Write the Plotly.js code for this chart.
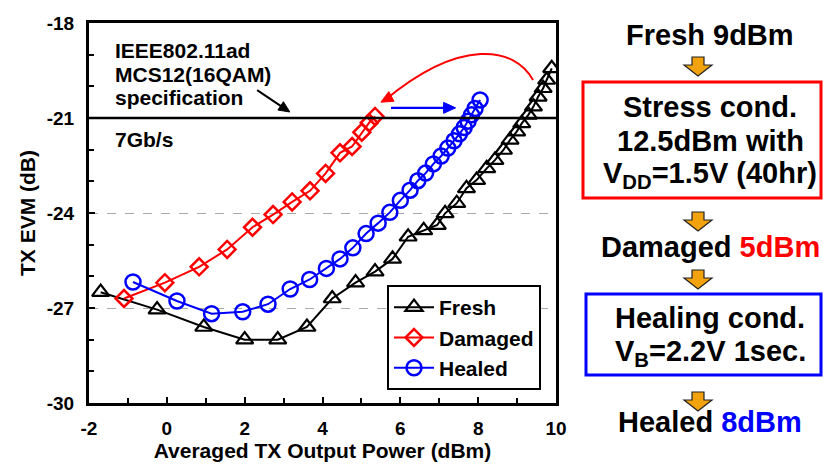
<!DOCTYPE html>
<html>
<head>
<meta charset="utf-8">
<script src="https://cdn.plot.ly/plotly-3.0.1.min.js"></script>
<style>
  html, body { margin: 0; padding: 0; background: #ffffff; }
  #chart { width: 823px; height: 464px; }
</style>
</head>
<body>
<div id="chart"></div>
<script>
// ---------- data ----------
const freshX = [-1.7, -0.25, 0.95, 2.0, 2.85, 3.6, 4.25, 4.85, 5.35, 5.8, 6.2, 6.6, 6.95,
                7.15, 7.45, 7.70, 7.96, 8.22, 8.43, 8.65, 8.82, 8.99, 9.12, 9.29, 9.42, 9.54, 9.67, 9.76, 9.89];
const freshY = [-26.5, -27.05, -27.6, -28.0, -28.0, -27.6, -26.7, -26.2, -25.85, -25.45, -24.75, -24.55, -24.38,
                -24.01, -23.69, -23.22, -22.96, -22.59, -22.33, -22.01, -21.69, -21.43, -21.17, -20.90, -20.64, -20.33, -20.06, -19.80, -19.43];

const damagedX = [-1.1, -0.05, 0.83, 1.55, 2.2, 2.73, 3.22, 3.68, 4.08, 4.45, 4.76, 5.01, 5.2, 5.35];
const damagedY = [-26.7, -26.2, -25.7, -25.15, -24.45, -24.05, -23.65, -23.3, -22.75, -22.1, -21.9, -21.45, -21.15, -20.95];

const healedX = [-0.87, 0.26, 1.15, 1.95, 2.6, 3.17, 3.67, 4.1, 4.45, 4.78, 5.12, 5.43, 5.73, 6.0,
                 6.25, 6.45, 6.65, 6.85, 7.05, 7.22, 7.38, 7.52, 7.64, 7.74, 7.83, 7.92, 8.05];
const healedY = [-26.18, -26.78, -27.18, -27.12, -26.88, -26.4, -26.1, -25.75, -25.45, -25.1, -24.65, -24.32, -23.98, -23.6,
                 -23.28, -22.98, -22.74, -22.45, -22.2, -21.95, -21.72, -21.5, -21.3, -21.1, -20.9, -20.7, -20.43];

const seriesNames = ['Fresh', 'Damaged', 'Healed'];
const xTickVals = [-2, 0, 2, 4, 6, 8, 10];
const xTickText = ['-2', '0', '2', '4', '6', '8', '10'];
const yTickVals = [-30, -27, -24, -21, -18];
const yTickText = ['-30', '-27', '-24', '-21', '-18'];
const specLevel = -21;

const specLines = ['IEEE802.11ad', 'MCS12(16QAM)', 'specification'];
const rateLabel = '7Gb/s';
const flowLines = [
  {text: 'Fresh 9dBm', y: 35},
  {text: 'Stress cond.', y: 107},
  {text: '12.5dBm with', y: 141},
  {text: 'V<sub>DD</sub>=1.5V (40hr)', y: 175},
  {text: 'Damaged <span style="color:#ff0000">5dBm</span>', y: 247},
  {text: 'Healing cond.', y: 318},
  {text: 'V<sub>B</sub>=2.2V 1sec.', y: 353},
  {text: 'Healed <span style="color:#0000ff">8dBm</span>', y: 422}
];
const flowArrowTops = [57, 212, 270, 392];

// ---------- layout helpers ----------
const M = {l: 89, r: 0, t: 23, b: 61};
const W = 823 - M.l - M.r, H = 464 - M.t - M.b;
const PLOT_R = 556;
const XR = [-2, 10], YR = [-30, -18];
const px = x => (x - M.l) / W;              // pixel -> paper x
const py = y => (464 - M.b - y) / H;        // pixel -> paper y
const d2pxX = v => M.l + (v - XR[0]) / (XR[1] - XR[0]) * (PLOT_R - M.l);
const d2pxY = v => (464 - M.b) - (v - YR[0]) / (YR[1] - YR[0]) * H;
const FONT = 'Liberation Sans, Arial, sans-serif';

function arrowHead(x0, y0, x1, y1, color, L, hw) {
  const ax = d2pxX(x0), ay = d2pxY(y0), bx = d2pxX(x1), by = d2pxY(y1);
  const len = Math.hypot(bx - ax, by - ay);
  const ux = (bx - ax) / len, uy = (by - ay) / len;
  const cx = bx - L * ux, cy = by - L * uy;
  const p = [[bx, by], [cx - hw * uy, cy + hw * ux], [cx + hw * uy, cy - hw * ux]];
  return {type: 'path', xref: 'paper', yref: 'paper',
          path: 'M ' + p.map(q => px(q[0]).toFixed(5) + ',' + py(q[1]).toFixed(5)).join(' L ') + ' Z',
          fillcolor: color, line: {color: color, width: 1}};
}

const traces = [
  {x: freshX, y: freshY, name: seriesNames[0], mode: 'lines+markers', legendgroup: 'a',
   line: {color: '#000000', width: 2},
   marker: {symbol: 'triangle-up-open', size: 15, color: '#000000', line: {width: 2.2}}},
  {x: damagedX, y: damagedY, name: seriesNames[1], mode: 'lines+markers', legendgroup: 'b',
   line: {color: '#ff0000', width: 2},
   marker: {symbol: 'diamond-open', size: 13, color: '#ff0000', line: {width: 2.5}}},
  {x: healedX, y: healedY, name: seriesNames[2], mode: 'lines+markers', legendgroup: 'c',
   line: {color: '#0000ff', width: 2},
   marker: {symbol: 'circle-open', size: 15, color: '#0000ff', line: {width: 2.5}}}
];

const shapes = [
  {type: 'line', xref: 'x', yref: 'y', x0: -2, x1: 10, y0: specLevel, y1: specLevel,
   line: {color: '#000000', width: 2.5}},
  {type: 'path', xref: 'x', yref: 'y',
   path: 'M 9.41,-19.8 C 8.95,-18.75 7.55,-18.45 5.6,-20.44',
   line: {color: '#ff0000', width: 2}},
  arrowHead(5.95, -20.2, 5.5, -20.5, '#ff0000', 12, 5.5),
  {type: 'line', xref: 'x', yref: 'y', x0: 5.76, x1: 7.2, y0: -20.68, y1: -20.68,
   line: {color: '#0000ff', width: 2.2}},
  arrowHead(5.76, -20.68, 7.42, -20.68, '#0000ff', 12, 5.5),
  {type: 'line', xref: 'x', yref: 'y', x0: 2.32, x1: 3.0, y0: -20.12, y1: -20.68,
   line: {color: '#000000', width: 2}},
  arrowHead(2.32, -20.12, 3.16, -20.81, '#000000', 11, 5),
  {type: 'rect', xref: 'paper', yref: 'paper', x0: px(583), x1: px(821), y0: py(82), y1: py(198),
   line: {color: '#ff0000', width: 3}},
  {type: 'rect', xref: 'paper', yref: 'paper', x0: px(586), x1: px(821), y0: py(294), y1: py(375),
   line: {color: '#0000ff', width: 3}}
];
flowArrowTops.forEach(t => {
  const cx = 698;
  const pts = [[cx - 6, t], [cx + 6, t], [cx + 6, t + 8], [cx + 14, t + 8], [cx, t + 19], [cx - 14, t + 8], [cx - 6, t + 8]];
  const path = 'M ' + pts.map(p => px(p[0]).toFixed(5) + ',' + py(p[1]).toFixed(5)).join(' L ') + ' Z';
  shapes.push({type: 'path', xref: 'paper', yref: 'paper', path: path,
               fillcolor: '#f2a20c', line: {color: '#222222', width: 1.2}});
});

const annotations = [];
const specY = [50, 74, 97];
specLines.forEach((t, i) => {
  annotations.push({xref: 'paper', yref: 'paper', x: px(113), y: py(specY[i]), xanchor: 'left', yanchor: 'middle',
    text: t, showarrow: false, font: {family: FONT, size: 21, weight: 'bold', color: '#000'}});
});
annotations.push({xref: 'paper', yref: 'paper', x: px(113), y: py(139), xanchor: 'left', yanchor: 'middle',
   text: rateLabel, showarrow: false, font: {family: FONT, size: 21, weight: 'bold', color: '#000'}});
flowLines.forEach(f => {
  annotations.push({xref: 'paper', yref: 'paper', x: px(710), y: py(f.y), xanchor: 'center', yanchor: 'middle',
    text: f.text, showarrow: false, font: {family: FONT, size: 29, weight: 'bold', color: '#000'}});
});

const layout = {
  width: 823, height: 464,
  margin: M,
  paper_bgcolor: '#ffffff', plot_bgcolor: '#ffffff',
  showlegend: true,
  legend: {x: px(387), y: py(285), xanchor: 'left', yanchor: 'top',
           bordercolor: '#000', borderwidth: 2, bgcolor: '#fff',
           font: {family: FONT, size: 21, weight: 'bold', color: '#000'},
           traceorder: 'grouped', tracegroupgap: 0, itemwidth: 40},
  xaxis: {domain: [0, px(PLOT_R)], range: XR, tickvals: xTickVals, ticktext: xTickText,
          ticks: 'inside', ticklen: 6, tickwidth: 2, tickcolor: '#000', ticklabelstandoff: 6,
          minor: {dtick: 1, ticks: 'inside', ticklen: 5, tickwidth: 2, tickcolor: '#000', showgrid: false},
          showline: true, linecolor: '#000', linewidth: 3, mirror: true, showgrid: false, zeroline: false,
          tickfont: {family: FONT, size: 19, weight: 'bold', color: '#000'},
          title: {text: 'Averaged TX Output Power (dBm)', standoff: 6,
                  font: {family: FONT, size: 21, weight: 'bold', color: '#000'}}},
  yaxis: {range: YR, tickvals: yTickVals, ticktext: yTickText,
          ticks: 'inside', ticklen: 6, tickwidth: 2, tickcolor: '#000', ticklabelstandoff: 8,
          minor: {dtick: 1, ticks: 'inside', ticklen: 5, tickwidth: 2, tickcolor: '#000', showgrid: false},
          showline: true, linecolor: '#000', linewidth: 3, mirror: true, zeroline: false,
          showgrid: true, gridcolor: '#aaaaaa', griddash: 'dash', gridwidth: 1,
          tickfont: {family: FONT, size: 19, weight: 'bold', color: '#000'},
          title: {text: 'TX EVM (dB)', standoff: 6,
                  font: {family: FONT, size: 21, weight: 'bold', color: '#000'}}},
  shapes: shapes,
  annotations: annotations
};

Plotly.newPlot('chart', traces, layout, {displayModeBar: false, staticPlot: true});
</script>
</body>
</html>
